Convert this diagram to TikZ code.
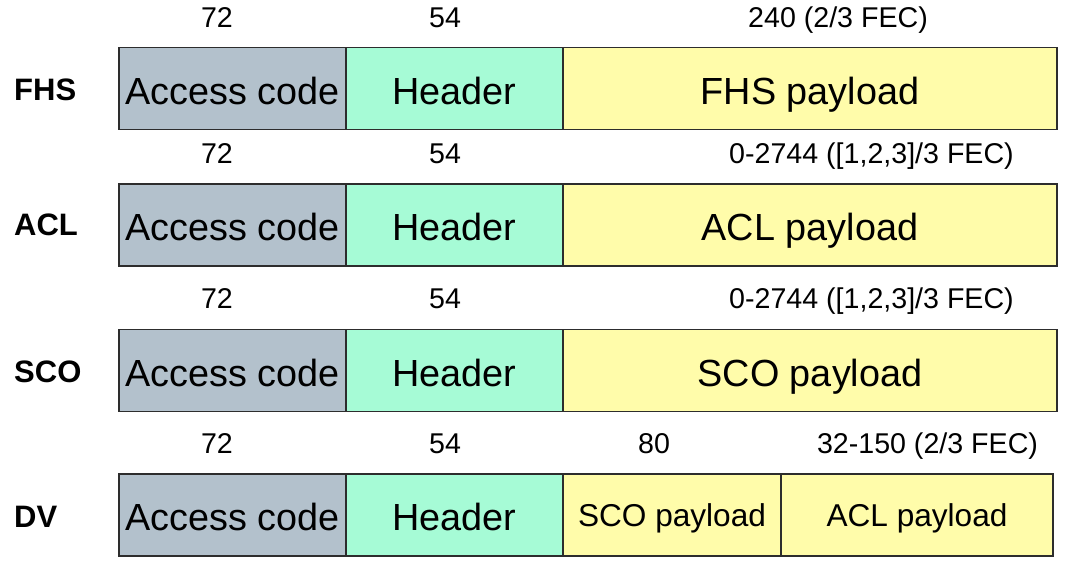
\documentclass[tikz,border=0pt]{standalone}
\usepackage{fontspec}
\setmainfont{Liberation Sans}

\definecolor{accessfill}{RGB}{179,193,204}
\definecolor{headerfill}{RGB}{166,251,214}
\definecolor{payloadfill}{RGB}{255,252,170}
\definecolor{edgegray}{RGB}{45,45,45}

\newcommand\segfont{\fontsize{37.8}{40}\selectfont}
\newcommand\smallsegfont{\fontsize{31.6}{34}\selectfont}
\newcommand\numfont{\fontsize{28.6}{30}\selectfont}
\newcommand\rowfont{\fontsize{31}{33}\selectfont\bfseries}

\begin{document}
\begin{tikzpicture}[x=1pt,y=-1pt,
  seg/.style={draw=edgegray, line width=1.3pt, minimum height=82pt,
    inner sep=0pt, outer sep=0pt, anchor=north west, text depth=0pt},
  accseg/.style={seg, fill=accessfill, minimum width=227pt,
    font=\segfont, text height=31pt},
  hdrseg/.style={seg, fill=headerfill, minimum width=217pt,
    font=\segfont, text height=31pt},
  payseg/.style={seg, fill=payloadfill, font=\segfont, text height=31pt},
  smallpay/.style={seg, fill=payloadfill, font=\smallsegfont, text height=23pt},
  bitcount/.style={anchor=base, font=\numfont, inner sep=0pt},
  rowname/.style={anchor=base west, font=\rowfont, inner sep=0pt}]

\useasboundingbox (0,0) rectangle (1076,579);

% FHS packet
\node[accseg] (fhsacc) at (119,47.5) {Access code};
\node[hdrseg] (fhshdr) at (fhsacc.north east) [anchor=north west] {Header};
\node[payseg, minimum width=494pt] (fhspay) at (fhshdr.north east) [anchor=north west] {FHS payload};
\node[rowname] (fhsname) at (14,100) {FHS};
\node[bitcount] (fhsn1) at (217,27.3) {72};
\node[bitcount] (fhsn2) at (445,27.3) {54};
\node[bitcount] (fhsn3) at (838,27.3) {240 (2/3 FEC)};

% ACL packet
\node[accseg] (aclacc) at (119,184) {Access code};
\node[hdrseg] (aclhdr) at (aclacc.north east) [anchor=north west] {Header};
\node[payseg, minimum width=494pt] (aclpay) at (aclhdr.north east) [anchor=north west] {ACL payload};
\node[rowname] (aclname) at (14,235) {ACL};
\node[bitcount] (acln1) at (217,163) {72};
\node[bitcount] (acln2) at (445,163) {54};
\node[bitcount] (acln3) at (871.5,163) {0-2744 ([1,2,3]/3 FEC)};

% SCO packet
\node[accseg] (scoacc) at (119,329.5) {Access code};
\node[hdrseg] (scohdr) at (scoacc.north east) [anchor=north west] {Header};
\node[payseg, minimum width=494pt] (scopay) at (scohdr.north east) [anchor=north west] {SCO payload};
\node[rowname] (sconame) at (14,382.5) {SCO};
\node[bitcount] (scon1) at (217,308.5) {72};
\node[bitcount] (scon2) at (445,308.5) {54};
\node[bitcount] (scon3) at (871.5,308.5) {0-2744 ([1,2,3]/3 FEC)};

% DV packet
\node[accseg] (dvacc) at (119,474) {Access code};
\node[hdrseg] (dvhdr) at (dvacc.north east) [anchor=north west] {Header};
\node[smallpay, minimum width=218pt] (dvsco) at (dvhdr.north east) [anchor=north west] {SCO payload};
\node[smallpay, minimum width=272pt] (dvacl) at (dvsco.north east) [anchor=north west] {ACL payload};
\node[rowname] (dvname) at (14,527) {DV};
\node[bitcount] (dvn1) at (217,453.5) {72};
\node[bitcount] (dvn2) at (445,453.5) {54};
\node[bitcount] (dvn3) at (654,453.5) {80};
\node[bitcount] (dvn4) at (927.5,453.5) {32-150 (2/3 FEC)};

\end{tikzpicture}
\end{document}
